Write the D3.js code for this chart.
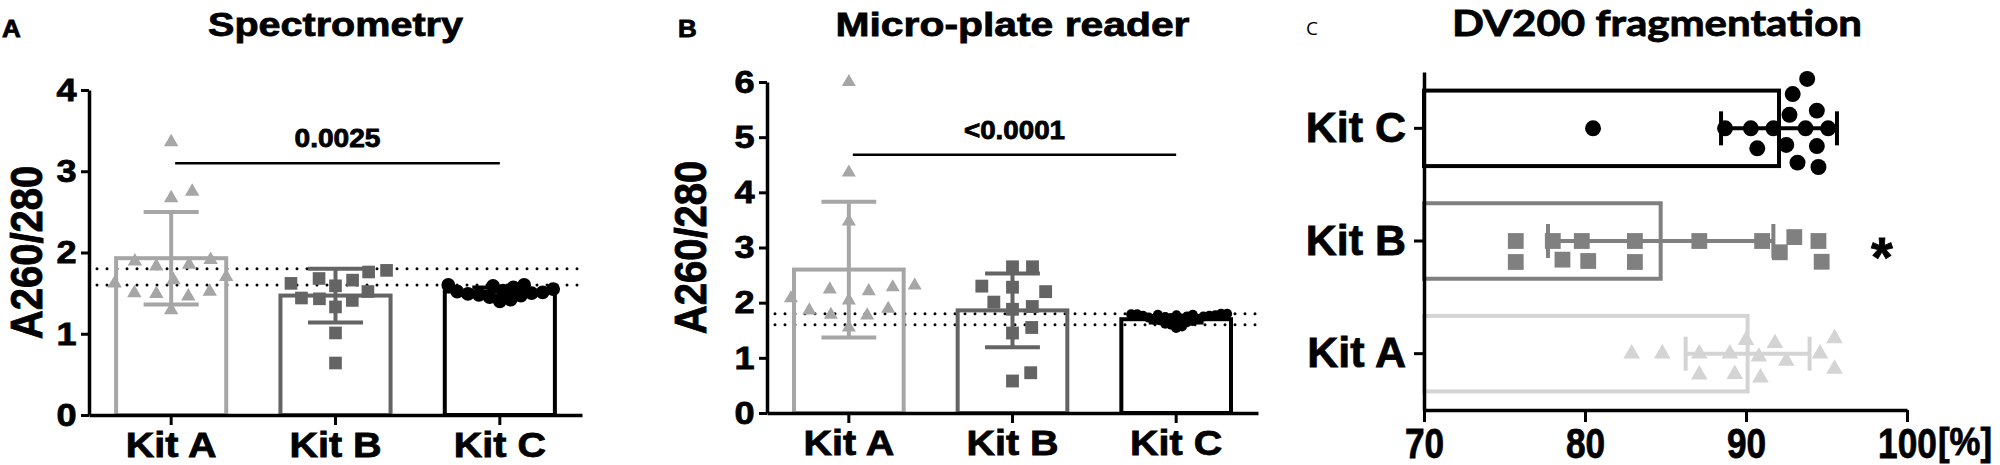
<!DOCTYPE html>
<html>
<head>
<meta charset="utf-8">
<script src="https://cdn.jsdelivr.net/npm/d3@7"></script>
<style>
  body { margin: 0; background: #fff; }
  text { font-family: "Liberation Sans", Arial, sans-serif; font-weight: bold; fill: #000;
         stroke: #000; stroke-width: 0.8px; }
</style>
</head>
<body>
<svg id="fig" width="2000" height="465"></svg>
<script>
var kits = ['Kit A', 'Kit B', 'Kit C'];
var kitsC = ['Kit C', 'Kit B', 'Kit A'];   // panel C lists them top to bottom

// A: spectrometry A260/280
var specMean = [1.93, 1.47, 1.52];
var specSD = [0.57, 0.33, 0.05];
var specKitA = [3.36, 2.75, 2.67, 1.91, 1.89, 1.85, 1.83, 1.70, 1.66, 1.62, 1.52, 1.50, 1.49, 1.46, 1.29];
var specKitB = [1.78, 1.76, 1.68, 1.66, 1.62, 1.59, 1.52, 1.44, 1.43, 1.41, 1.33, 1.01, 0.64];
var specKitC = [1.40, 1.42, 1.45, 1.47, 1.48, 1.49, 1.50, 1.51, 1.52, 1.53, 1.55, 1.57, 1.59, 1.60, 1.60];
var specTicks = [0, 1, 2, 3, 4];
var specP = '0.0025', specSig = 3.10;

// B: micro-plate reader A260/280
var plateMean = [2.60, 1.86, 1.70];
var plateSD = [1.23, 0.67, 0.06];
var plateKitA = [6.00, 4.36, 3.47, 2.31, 2.28, 2.24, 2.21, 2.08, 2.04, 1.89, 1.86, 1.78, 1.77, 1.55];
var plateKitB = [2.65, 2.65, 2.30, 2.28, 2.20, 2.01, 1.93, 1.88, 1.55, 1.45, 0.73, 0.58];
var plateKitC = [1.54, 1.57, 1.60, 1.62, 1.64, 1.66, 1.67, 1.68, 1.69, 1.70, 1.71, 1.72, 1.73,
                 1.74, 1.75, 1.75, 1.76, 1.76, 1.77, 1.77, 1.78, 1.78, 1.79, 1.79, 1.80, 1.80];
var plateTicks = [0, 1, 2, 3, 4, 5, 6];
var plateP = '<0.0001', plateSig = 4.68;

// purity window drawn as dotted lines
var purityLimits = [1.6, 1.8];

// C: DV200 [%]
var dvMean = [90.1, 84.7, 92.05];
var dvSD = [3.85, 7.0, 3.6];
var dvKitA = [82.9, 84.8, 87.1, 87.1, 89.0, 89.3, 90.0, 90.9, 90.8, 91.8, 92.5, 94.6, 95.5, 95.5];
var dvKitB = [75.7, 75.7, 78.0, 78.6, 79.8, 80.2, 83.1, 83.1, 87.1, 91.0, 92.1, 93.0, 94.5, 94.7];
var dvKitC = [80.5, 88.7, 90.3, 90.7, 91.7, 92.5, 92.7, 92.9, 93.2, 93.7, 93.8, 94.4, 94.4, 94.5, 95.1];
var dvTicks = [70, 80, 90, 100];

var svg = d3.select('#fig');
var STRETCH = 'scale(1.13,1)';   // panels A and B are a bit wider than tall in the original

// simple beeswarm: spread points sideways so markers don't sit on each other
function swarm(values, pos, diam) {
    var placed = [];
    var out = new Array(values.length);
    var order = values.map(function(v, i){ return i; })
        .sort(function(a, b){ return values[a] - values[b]; });
    order.forEach(function(i){
        var p = pos(values[i]);
        var near = placed.filter(function(q){ return Math.abs(q.p - p) < diam; });
        var cands = [0];
        near.forEach(function(q){
            var d = Math.sqrt(diam * diam - (q.p - p) * (q.p - p));
            cands.push(q.o + d, q.o - d);
        });
        cands.sort(function(a, b){ return (Math.abs(a) - Math.abs(b)) || (b - a); });
        var o = cands.find(function(c){
            return near.every(function(q){
                return (q.o - c) * (q.o - c) + (q.p - p) * (q.p - p) >= diam * diam - 0.5;
            });
        });
        placed.push({p: p, o: o});
        out[i] = o;
    });
    return out;
}

function barPanel(o) {
    var g = svg.append('g');
    var x = d3.scaleBand().domain(kits).range([o.left, o.right])
        .paddingInner(0.33).paddingOuter(0.165);
    var y = d3.scaleLinear().domain([0, o.max]).range([o.bottom, o.top]);
    var bw = x.bandwidth();

    // dotted purity lines
    g.selectAll('.lim').data(purityLimits).enter().append('line')
        .attr('x1', o.left + 8).attr('x2', o.right + 4)
        .attr('y1', function(d){ return y(d); })
        .attr('y2', function(d){ return y(d); })
        .style('stroke', '#000').style('stroke-width', 3)
        .style('stroke-dasharray', '0,10').style('stroke-linecap', 'round');

    // bars
    g.selectAll('.bar').data(kits).enter().append('rect')
        .attr('x', function(d){ return x(d); })
        .attr('width', bw)
        .attr('y', function(d, i){ return y(o.mean[i]); })
        .attr('height', function(d, i){ return y(0) - y(o.mean[i]); })
        .style('fill', 'none')
        .style('stroke', function(d, i){ return o.colors[i]; })
        .style('stroke-width', 4);

    // points
    kits.forEach(function(k, i){
        var vals = o.points[i];
        var offs = swarm(vals, y, o.spread[i]);
        var sym = d3.symbol().type(o.symbols[i]).size(o.sizes[i]);
        g.append('g').selectAll('path').data(vals).enter().append('path')
            .attr('d', sym)
            .attr('transform', function(d, j){
                return 'translate(' + (x(k) + bw / 2 + offs[j]) + ',' + y(d) + ')';
            })
            .style('fill', o.colors[i]);
    });

    // error bars (mean +/- SD)
    kits.forEach(function(k, i){
        var cx = x(k) + bw / 2;
        var lo = y(o.mean[i] - o.sd[i]), hi = y(o.mean[i] + o.sd[i]);
        var eb = g.append('g').style('stroke', o.colors[i]).style('stroke-width', 4);
        eb.append('line').attr('x1', cx).attr('x2', cx).attr('y1', lo).attr('y2', hi);
        [lo, hi].forEach(function(yy){
            eb.append('line').attr('x1', cx - bw / 4).attr('x2', cx + bw / 4)
                .attr('y1', yy).attr('y2', yy);
        });
    });

    // axes
    var xAxis = g.append('g')
        .attr('transform', 'translate(0,' + o.bottom + ')')
        .call(d3.axisBottom(x).tickSize(10).tickSizeOuter(0).tickPadding(7));
    var yAxis = g.append('g')
        .attr('transform', 'translate(' + o.left + ',0)')
        .call(d3.axisLeft(y).tickValues(o.ticks).tickSize(8).tickSizeOuter(0)
            .tickPadding(3).tickFormat(d3.format('d')));
    [xAxis, yAxis].forEach(function(a){
        a.attr('font-family', null).attr('font-size', null);
        a.select('.domain').style('stroke-width', 3.5);
        a.selectAll('.tick line').style('stroke-width', 3);
    });
    xAxis.selectAll('text').style('font-size', '35px').attr('transform', STRETCH);
    yAxis.selectAll('text').style('font-size', '32px').attr('transform', STRETCH);

    // y label
    g.append('text')
        .attr('transform', 'translate(' + o.labelX + ',' + (o.top + o.bottom) / 2 + ') ' + STRETCH + ' rotate(-90)')
        .attr('text-anchor', 'middle').attr('dy', '0.36em')
        .style('font-size', '40px')
        .text('A260/280');

    // title and panel letter
    var mid = (x(kits[0]) + x(kits[2]) + bw) / 2;
    g.append('text').attr('x', mid).attr('y', 36)
        .attr('text-anchor', 'middle')
        .attr('textLength', o.titleLen).attr('lengthAdjust', 'spacingAndGlyphs')
        .style('font-size', '34px')
        .text(o.title);
    g.append('text').attr('transform', 'translate(' + o.letterX + ',37) ' + STRETCH)
        .style('font-size', '23px').text(o.letter);

    // significance line
    var sx1 = x(kits[0]) + bw / 2 + 4, sx2 = x(kits[2]) + bw / 2;
    g.append('line').attr('x1', sx1).attr('x2', sx2)
        .attr('y1', y(o.sig)).attr('y2', y(o.sig))
        .style('stroke', '#000').style('stroke-width', 2.5);
    g.append('text').attr('x', (sx1 + sx2) / 2).attr('y', y(o.sig) - 16)
        .attr('text-anchor', 'middle')
        .attr('textLength', o.pLen).attr('lengthAdjust', 'spacingAndGlyphs')
        .style('font-size', '25px').text(o.p);
}

barPanel({
    left: 89, right: 582, top: 90, bottom: 415, max: 4,
    mean: specMean, sd: specSD, ticks: specTicks,
    points: [specKitA, specKitB, specKitC],
    colors: ['#a6a6a6', '#646464', '#000'],
    symbols: [d3.symbolTriangle, d3.symbolSquare, d3.symbolCircle],
    sizes: [90, 160, 150],
    spread: [22, 18, 11],
    labelX: 26, title: 'Spectrometry', titleLen: 255,
    letter: 'A', letterX: 2,
    p: specP, sig: specSig, pLen: 86
});

barPanel({
    left: 767, right: 1258, top: 82, bottom: 413, max: 6,
    mean: plateMean, sd: plateSD, ticks: plateTicks,
    points: [plateKitA, plateKitB, plateKitC],
    colors: ['#a6a6a6', '#646464', '#000'],
    symbols: [d3.symbolTriangle, d3.symbolSquare, d3.symbolCircle],
    sizes: [85, 165, 80],
    spread: [22, 20, 6],
    labelX: 690, title: 'Micro-plate reader', titleLen: 354,
    letter: 'B', letterX: 678,
    p: plateP, sig: plateSig, pLen: 101
});

// ---- panel C, horizontal bars ----
(function(){
    var g = svg.append('g');
    var colorsC = {'Kit A': '#d4d4d4', 'Kit B': '#808080', 'Kit C': '#000'};
    var symC = {'Kit A': d3.symbolTriangle, 'Kit B': d3.symbolSquare, 'Kit C': d3.symbolCircle};
    var sizeC = {'Kit A': 120, 'Kit B': 250, 'Kit C': 200};
    var ptsC = {'Kit A': dvKitA, 'Kit B': dvKitB, 'Kit C': dvKitC};
    var idx = {'Kit A': 0, 'Kit B': 1, 'Kit C': 2};

    var x = d3.scaleLinear().domain([70, 100]).range([1424, 1907]);
    var y = d3.scaleBand().domain(kitsC).range([72, 410])
        .paddingInner(0.33).paddingOuter(0.165);
    var bw = y.bandwidth();

    g.selectAll('.bar').data(kitsC).enter().append('rect')
        .attr('x', x(70))
        .attr('width', function(d){ return x(dvMean[idx[d]]) - x(70); })
        .attr('y', function(d){ return y(d); })
        .attr('height', bw)
        .style('fill', 'none')
        .style('stroke', function(d){ return colorsC[d]; })
        .style('stroke-width', 4);

    kitsC.forEach(function(k){
        var vals = ptsC[k];
        var offs = swarm(vals, x, 21);
        var sym = d3.symbol().type(symC[k]).size(sizeC[k]);
        g.append('g').selectAll('path').data(vals).enter().append('path')
            .attr('d', sym)
            .attr('transform', function(d, j){
                return 'translate(' + x(d) + ',' + (y(k) + bw / 2 + offs[j]) + ')';
            })
            .style('fill', colorsC[k]);
    });

    kitsC.forEach(function(k){
        var i = idx[k];
        var cy = y(k) + bw / 2;
        var lo = x(dvMean[i] - dvSD[i]), hi = x(dvMean[i] + dvSD[i]);
        var eb = g.append('g').style('stroke', colorsC[k]).style('stroke-width', 4);
        eb.append('line').attr('x1', lo).attr('x2', hi).attr('y1', cy).attr('y2', cy);
        [lo, hi].forEach(function(xx){
            eb.append('line').attr('x1', xx).attr('x2', xx)
                .attr('y1', cy - 17).attr('y2', cy + 17);
        });
    });

    var yAxis = g.append('g')
        .attr('transform', 'translate(' + x(70) + ',0)')
        .call(d3.axisLeft(y).tickSize(10).tickSizeOuter(0).tickPadding(8));
    var xAxis = g.append('g')
        .attr('transform', 'translate(0,410)')
        .call(d3.axisBottom(x).tickValues(dvTicks).tickSize(12).tickSizeOuter(0).tickPadding(5));
    [xAxis, yAxis].forEach(function(a){
        a.attr('font-family', null).attr('font-size', null);
        a.select('.domain').style('stroke-width', 3.5);
        a.selectAll('.tick line').style('stroke-width', 3);
    });
    yAxis.selectAll('text').style('font-size', '43px');
    xAxis.selectAll('text').style('font-size', '43px').attr('transform', 'scale(0.82,1)');

    // unit after the last tick
    g.append('text').attr('x', 1938).attr('y', 455)
        .attr('textLength', 54).attr('lengthAdjust', 'spacingAndGlyphs')
        .style('font-size', '38px').text('[%]');

    // significance mark for Kit B
    g.append('text').attr('x', 1882).attr('y', 276)
        .attr('text-anchor', 'middle').style('font-size', '56px').text('*');

    g.append('text').attr('x', 1657).attr('y', 35.5)
        .attr('text-anchor', 'middle')
        .attr('textLength', 410).attr('lengthAdjust', 'spacingAndGlyphs')
        .style('font-family', 'Lato, "Open Sans", sans-serif').style('font-size', '36px')
        .text('DV200 fragmentation');
    g.append('text').attr('x', 1306).attr('y', 35)
        .style('font-family', '"Open Sans", sans-serif').style('font-weight', 'normal')
        .style('stroke', 'none')
        .style('font-size', '19px').text('C');
})();
</script>
</body>
</html>
